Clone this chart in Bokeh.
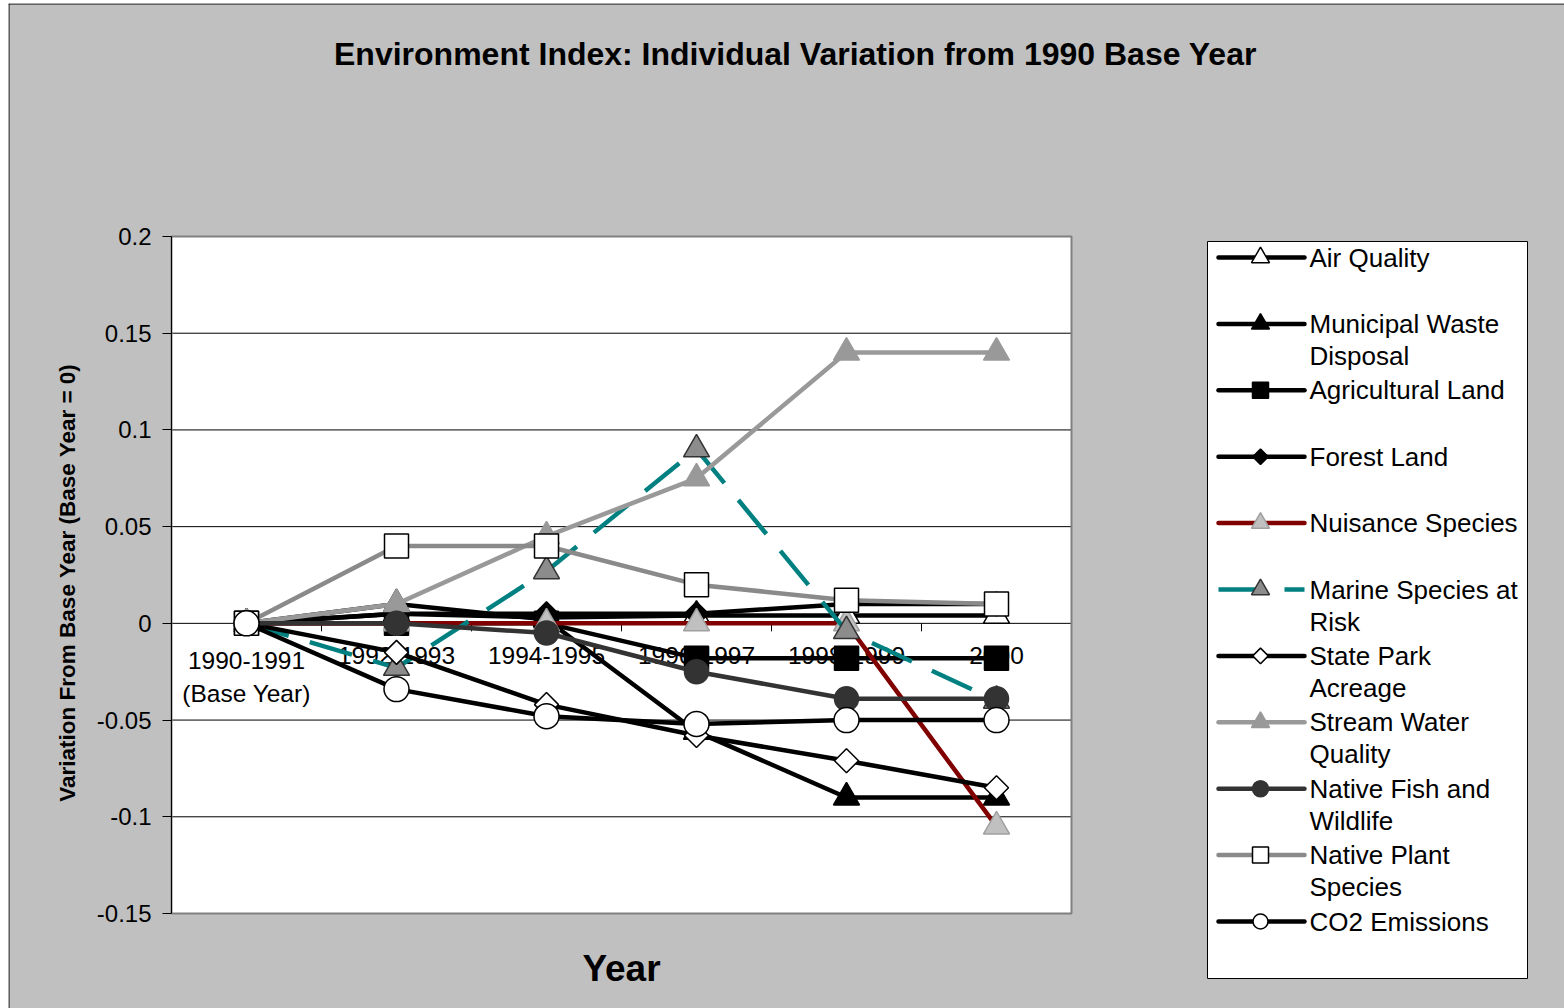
import numpy as np
from bokeh.plotting import figure
from bokeh.models import Range1d, FixedTicker, CustomJSTickFormatter, LinearAxis
from bokeh.embed import file_html
from bokeh.resources import INLINE
from bokeh.core.properties import value

# ---- data -------------------------------------------------------------
periods = ["1990-1991\n(Base Year)", "1992-1993", "1994-1995",
           "1996-1997", "1998-1999", "2000"]

air_quality        = [0, 0.005, 0.003, 0.004, 0.004, 0.004]
municipal_waste    = [0, 0.010, 0.002, -0.056, -0.090, -0.090]
agricultural_land  = [0, 0.000, 0.000, -0.018, -0.018, -0.018]
forest_land        = [0, 0.005, 0.005, 0.005, 0.010, 0.010]
nuisance_species   = [0, 0.000, 0.000, 0.000, 0.000, -0.105]
marine_species     = [0, -0.023, 0.027, 0.090, -0.004, -0.040]
state_park         = [0, -0.015, -0.042, -0.058, -0.071, -0.085]
stream_water       = [0, 0.010, 0.045, 0.075, 0.140, 0.140]
native_fish        = [0, 0.000, -0.005, -0.025, -0.039, -0.039]
native_plant       = [0, 0.040, 0.040, 0.020, 0.012, 0.010]
co2_emissions      = [0, -0.034, -0.048, -0.052, -0.050, -0.050]

y_ticks = [-0.15, -0.1, -0.05, 0, 0.05, 0.1, 0.15, 0.2]

title = "Environment Index: Individual Variation from 1990 Base Year"
x_title = "Year"
y_title = "Variation From Base Year (Base Year = 0)"

# name, values, line colour, dash, marker, fill, outline, marker size, legend marker size
series = [
    ("Air Quality", air_quality, "black", "solid", "triangle", "white", "black", 26, 18),
    ("Municipal Waste\nDisposal", municipal_waste, "black", "solid", "triangle", "black", "black", 26, 18),
    ("Agricultural Land", agricultural_land, "black", "solid", "square", "black", "black", 24, 16),
    ("Forest Land", forest_land, "black", "solid", "diamond", "black", "black", 17, 11),
    ("Nuisance Species", nuisance_species, "#800000", "solid", "triangle", "#C0C0C0", "#A0A0A0", 26, 18),
    ("Marine Species at\nRisk", marine_species, "#008080", "44 22", "triangle", "#8C8C8C", "#333333", 26, 18),
    ("State Park\nAcreage", state_park, "black", "solid", "diamond", "white", "black", 17, 11),
    ("Stream Water\nQuality", stream_water, "#999999", "solid", "triangle", "#999999", "#999999", 26, 18),
    ("Native Fish and\nWildlife", native_fish, "#333333", "solid", "circle", "#333333", "#333333", 24, 16),
    ("Native Plant\nSpecies", native_plant, "#8A8A8A", "solid", "square", "white", "black", 24, 16),
    ("CO2 Emissions", co2_emissions, "black", "solid", "circle", "white", "black", 25, 15),
]

FONT = "Liberation Sans"
BG = "#C0C0C0"

# ---- page geometry (pixels) ------------------------------------------
LEFT, TOP, W, H = 8, 3, 1556, 1005          # chart box on the page
PA_L, PA_R, PA_T, PA_B = 171, 1071, 236, 913  # plot area box

n = len(periods)
ymin, ymax = y_ticks[0], y_ticks[-1]
kx = (PA_R - PA_L) / n
ky = (PA_B - PA_T) / (ymax - ymin)
x_rng = Range1d(-(PA_L - LEFT) / kx, n + (LEFT + W - PA_R) / kx)
y_rng = Range1d(ymin - (TOP + H - PA_B) / ky, ymax + (PA_T - TOP) / ky)

xs = [i + 0.5 for i in range(n)]

p = figure(width=W, height=H, x_range=x_rng, y_range=y_rng,
           x_axis_location=None, y_axis_location=None,
           output_backend="svg", toolbar_location=None,
           min_border=0, background_fill_color=BG, border_fill_color=BG)
p.margin = (TOP, 0, 0, LEFT)
p.outline_line_color = None
p.grid.visible = False
# page-pixel coordinates for the furniture around the plot area
p.extra_x_ranges = {"px": Range1d(LEFT, LEFT + W)}
p.extra_y_ranges = {"py": Range1d(TOP + H, TOP)}

# chart border (top and left edges)
p.segment(x0=[LEFT + 0.5, LEFT], y0=[TOP, TOP + 0.5], x1=[LEFT + 0.5, LEFT + W],
          y1=[TOP + H, TOP + 0.5], x_range_name="px", y_range_name="py",
          line_color="black", line_width=1)

# plot area
p.quad(left=0, right=n, bottom=ymin, top=ymax, fill_color="white", line_color=None)
p.segment(x0=[0] * len(y_ticks), x1=[n] * len(y_ticks), y0=y_ticks, y1=y_ticks,
          line_color="black", line_width=1)
p.quad(left=0, right=n, bottom=ymin, top=ymax, fill_color=None,
       line_color="#808080", line_width=2)

# value axis
yax = LinearAxis(fixed_location=0, bounds=(ymin, ymax))
yax.ticker = FixedTicker(ticks=y_ticks)
yax.formatter = CustomJSTickFormatter(code="return String(Math.round(tick * 100) / 100);")
yax.axis_line_color = "black"
yax.major_tick_line_color = "black"
yax.major_tick_out = 9
yax.major_tick_in = 0
yax.minor_tick_line_color = None
yax.major_label_standoff = 11
yax.major_label_text_font = FONT
yax.major_label_text_font_size = "24px"
yax.major_label_text_color = "black"
p.add_layout(yax, "left")

# category tick marks on the zero line, between periods
bounds = list(range(1, n))
p.segment(x0=bounds, y0=[0] * len(bounds), x1=bounds, y1=[-8 / ky] * len(bounds),
          line_color="black", line_width=1)

# period labels under the zero line
p.text(x=xs, y=[0] * n, text=periods, text_font=value(FONT),
       text_font_size="24.5px", text_align="center", text_baseline="top",
       text_line_height=1.2, y_offset=24, text_color="black")

# series
for name, vals, lc, dash, mk, fill, edge, msz, _ in series:
    p.line(xs, vals, line_color=lc, line_width=4.5, line_dash=dash,
           line_join="round", line_cap="butt" if dash != "solid" else "round")
    ang = np.pi / 4 if mk == "diamond" else 0
    p.scatter(xs, vals, marker="square" if mk == "diamond" else mk, size=msz, angle=ang,
              fill_color=fill, line_color=edge, line_width=1.5)

# titles
p.text(x=[795], y=[53], text=[title], x_range_name="px", y_range_name="py",
       text_font=value(FONT), text_font_size="32px", text_font_style="bold",
       text_align="center", text_baseline="middle", text_color="black")
p.text(x=[(PA_L + PA_R) / 2], y=[968], text=[x_title], x_range_name="px", y_range_name="py",
       text_font=value(FONT), text_font_size="37px", text_font_style="bold",
       text_align="center", text_baseline="middle", text_color="black")
p.text(x=[67], y=[582], text=[y_title], x_range_name="px", y_range_name="py", angle=np.pi / 2,
       text_font=value(FONT), text_font_size="22.5px", text_font_style="bold",
       text_align="center", text_baseline="middle", text_color="black")

# ---- legend -----------------------------------------------------------
LG_L, LG_R, LG_T, LG_B = 1207, 1527, 241, 978
p.quad(left=LG_L, right=LG_R, top=LG_T, bottom=LG_B, x_range_name="px", y_range_name="py",
       fill_color="white", line_color="black", line_width=1)
step = 66.4
for i, (name, vals, lc, dash, mk, fill, edge, _, lsz) in enumerate(series):
    yy = LG_T + 16 + step * i
    p.line([LG_L + 11, LG_L + 97], [yy, yy], x_range_name="px", y_range_name="py",
           line_color=lc, line_width=4.5, line_dash=dash,
           line_cap="butt" if dash != "solid" else "round")
    ang = np.pi / 4 if mk == "diamond" else 0
    p.scatter([LG_L + 53], [yy], x_range_name="px", y_range_name="py",
              marker="square" if mk == "diamond" else mk, size=lsz, angle=ang,
              fill_color=fill, line_color=edge, line_width=1.5)
    lines = name.split("\n")
    p.text(x=[LG_L + 102] * len(lines), y=[yy + 32 * k for k in range(len(lines))], text=lines,
           x_range_name="px", y_range_name="py",
           text_font=value(FONT), text_font_size="26px", text_baseline="middle",
           text_color="black")

open("out.html", "w").write(file_html(p, INLINE))
